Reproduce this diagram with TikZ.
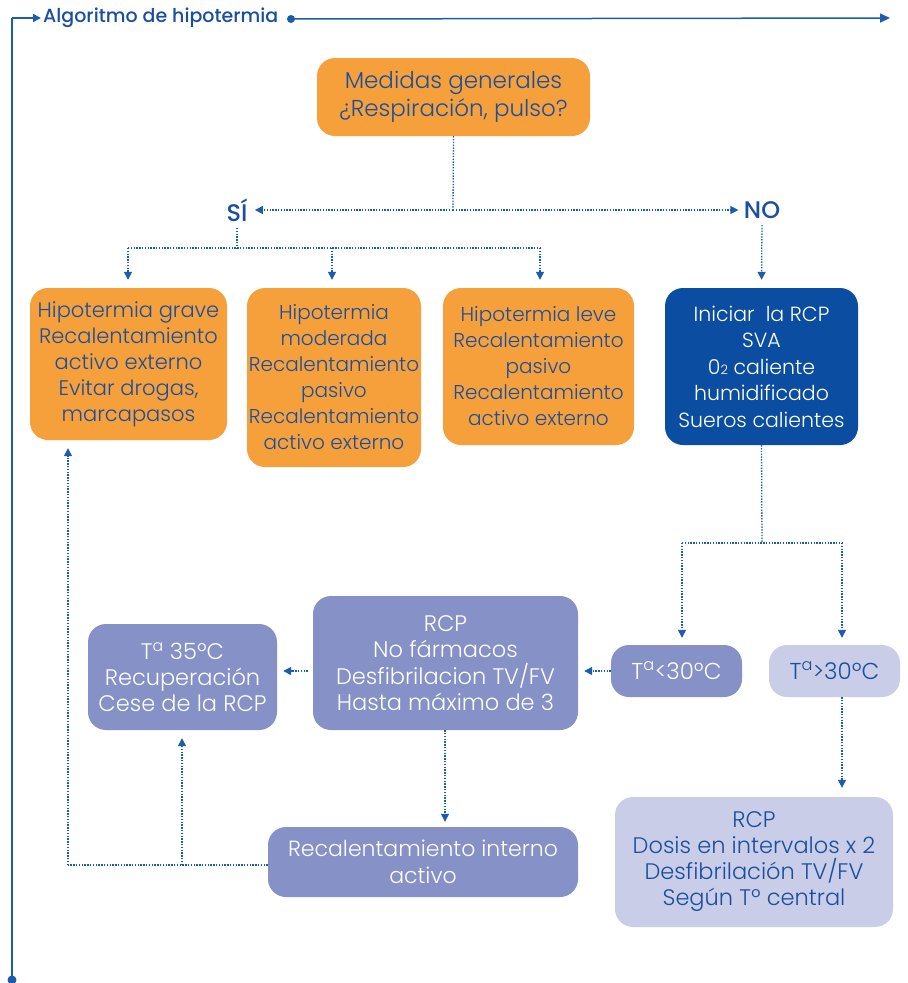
\documentclass[tikz,border=0pt]{standalone}
\usepackage{fontspec}
\IfFontExistsTF{Poppins Light}{\setmainfont{Poppins Light}}{\setmainfont{Poppins}}
\IfFontExistsTF{Poppins Medium}{\newfontfamily\headfont{Poppins Medium}}{\newfontfamily\headfont{Poppins}}
\usetikzlibrary{arrows.meta}
\definecolor{orangebox}{HTML}{F6A03B}
\definecolor{darkbox}{HTML}{0B4EA1}
\definecolor{midbox}{HTML}{8591C7}
\definecolor{lightbox}{HTML}{C9CDE7}
\definecolor{inkblue}{HTML}{1A4E9E}
\definecolor{lineblue}{HTML}{1B5DAD}
\newcommand{\boxsize}[2]{\fontsize{#1}{#2}\selectfont}
\tikzset{
  box/.style={rounded corners=18pt, align=center, inner sep=0pt},
  orangestep/.style={box, fill=orangebox, text=inkblue},
  darkstep/.style={box, fill=darkbox, text=white},
  midstep/.style={box, fill=midbox, text=white},
  lightstep/.style={box, fill=lightbox, text=inkblue},
  flow/.style={draw=lineblue, line width=1.3pt, dash pattern=on 1.4pt off 1.4pt},
  flowarrow/.style={flow, -{Triangle[length=8pt,width=8pt]}},
  frame/.style={draw=lineblue, line width=1.5pt},
  answer/.style={text=inkblue, font=\headfont\fontsize{24}{26}\selectfont}
}
\begin{document}
\begin{tikzpicture}[x=1pt,y=-1pt]
\useasboundingbox (0,0) rectangle (908,983);

% header frame
\node[anchor=west, text=inkblue, font=\headfont\fontsize{19}{22}\selectfont, inner sep=0pt] (title) at (43,18) {Algoritmo de hipotermia};
\coordinate (corner) at (12,18);
\coordinate (bottom) at (12,980);
\coordinate (rightend) at (890,18);
\node[circle, fill=lineblue, inner sep=0pt, minimum size=8pt] (dot) at (291,19) {};
\draw[frame, -{Triangle[length=8pt,width=8pt]}] (corner) -- ([xshift=-2pt]title.west);
\draw[frame] (corner) -- (bottom);
\fill[lineblue] (bottom) circle (4.5pt);
\draw[frame, -{Triangle[length=10pt,width=9pt]}] (dot.center) -- (rightend);

% boxes
\node[orangestep, minimum width=273pt, minimum height=78pt, font=\boxsize{23}{28}] (med) at (453.5,97)
  {Medidas generales\\¿Respiración, pulso?};
\node[answer] (si) at (237,210) {SÍ};
\node[answer] (no) at (762,210) {NO};

\node[orangestep, minimum width=197pt, minimum height=152pt, font=\boxsize{21}{26}] (grave) at (128.5,364)
  {Hipotermia grave\\Recalentamiento\\activo externo\\Evitar drogas,\\marcapasos};
\node[orangestep, minimum width=174pt, minimum height=179pt, font=\boxsize{20}{26}] (moderada) at (334,377.5)
  {Hipotermia\\moderada\\Recalentamiento\\pasivo\\Recalentamiento\\activo externo};
\node[orangestep, minimum width=191pt, minimum height=157pt, font=\boxsize{20}{26}] (leve) at (538.5,366.5)
  {Hipotermia leve\\Recalentamiento\\pasivo\\Recalentamiento\\activo externo};
\node[darkstep, minimum width=193pt, minimum height=157pt, font=\boxsize{20.5}{26.5}] (rcpini) at (761.5,366.5)
  {Iniciar\ \ la RCP\\SVA\\0\raisebox{-0.5pt}{\fontsize{13}{13}\selectfont 2} caliente\\humidificado\\Sueros calientes};

\node[midstep, minimum width=131pt, minimum height=52pt, font=\boxsize{23}{26}] (lt) at (676.5,671)
  {T\textsuperscript{a}<30ºC};
\node[lightstep, minimum width=131pt, minimum height=52pt, font=\boxsize{23}{26}] (gt) at (834.5,671)
  {T\textsuperscript{a}>30ºC};
\node[midstep, minimum width=265pt, minimum height=134pt, font=\boxsize{22.5}{26.3}] (rcpa) at (445.5,663)
  {RCP\\No fármacos\\Desfibrilacion TV/FV\\Hasta máximo de 3};
\node[midstep, minimum width=189pt, minimum height=106pt, font=\boxsize{22.5}{26}] (t35) at (182.5,677)
  {T\textsuperscript{a} 35ºC\\Recuperación\\Cese de la RCP};
\node[midstep, minimum width=310pt, minimum height=70pt, font=\boxsize{22}{27}] (interno) at (423,862)
  {Recalentamiento interno\\activo};
\node[lightstep, minimum width=278pt, minimum height=130pt, font=\boxsize{22.5}{26}] (rcpb) at (754,862)
  {RCP\\Dosis en intervalos x 2\\Desfibrilación TV/FV\\Según Tº central};

% connectors
\coordinate (split) at (453,210);
\draw[flow] (med.south) -- (split);
\draw[flowarrow] (split) -- ([xshift=4pt]si.east);
\draw[flowarrow] (split) -- ([xshift=-2pt]no.west);

\coordinate (sibar) at (237,248);
\draw[flow] ([yshift=-3pt]si.south) -- (sibar);
\draw[flow] (128,248) -- (540,248);
\draw[flowarrow, shorten >=8pt] (128,248) -- (grave.north -| 128,0);
\draw[flowarrow, shorten >=8pt] (332,248) -- (moderada.north -| 332,0);
\draw[flowarrow, shorten >=8pt] (540,248) -- (leve.north -| 540,0);
\draw[flowarrow, shorten >=8pt, shorten <=3pt] (no.south) -- (rcpini.north);

\coordinate (tsplit) at (762,543);
\draw[flow] (rcpini.south) -- (tsplit);
\draw[flow] (682,543) -- (842,543);
\draw[flowarrow, shorten >=7pt] (682,543) -- (lt.north -| 682,0);
\draw[flowarrow, shorten >=7pt] (842,543) -- (gt.north -| 842,0);

\draw[flowarrow, shorten >=6pt] (lt.west) -- (lt.west -| rcpa.east);
\draw[flowarrow, shorten >=6pt, shorten <=5pt] (rcpa.west |- lt.west) -- (lt.west -| t35.east);
\draw[flowarrow, shorten >=5pt] (rcpa.south -| 445,0) -- (interno.north -| 445,0);
\draw[flowarrow, shorten >=9pt] (gt.south -| 842,0) -- (rcpb.north -| 842,0);

\coordinate (loopleft) at (68,865);
\coordinate (loopmid) at (182,865);
\draw[flow] (interno.west |- loopleft) -- (loopleft);
\draw[flowarrow, shorten >=8pt] (loopleft) -- (grave.south -| loopleft);
\draw[flowarrow, shorten >=8pt] (loopmid) -- (t35.south -| loopmid);
\end{tikzpicture}
\end{document}
